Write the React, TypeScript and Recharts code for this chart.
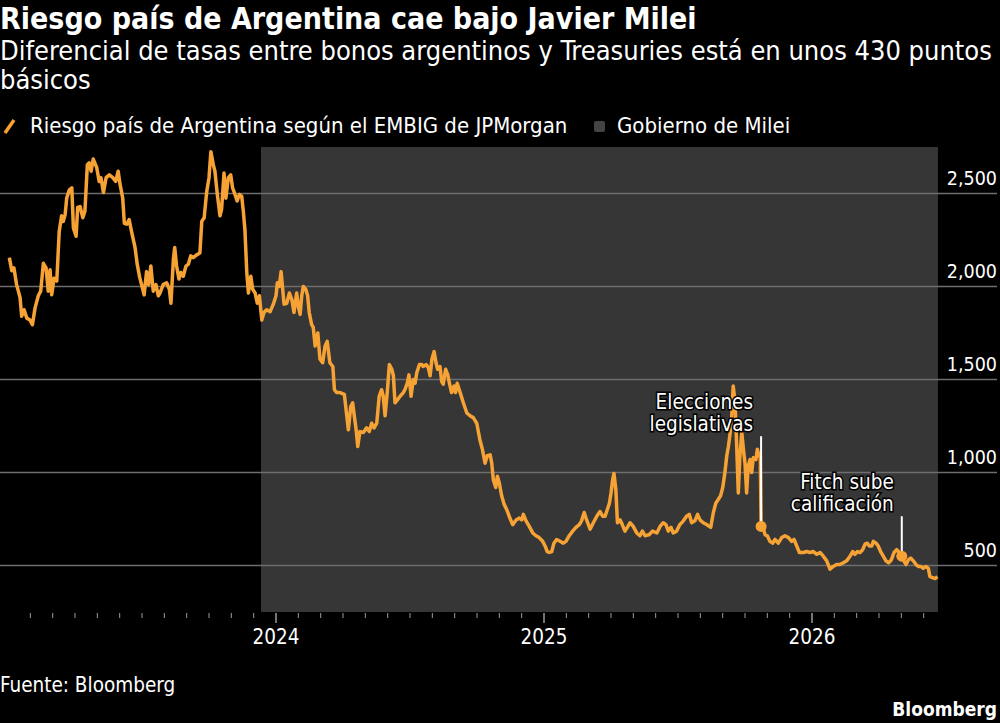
import React from "react";
import {
  LineChart,
  Line,
  XAxis,
  YAxis,
  ReferenceArea,
  ReferenceDot,
  ReferenceLine,
} from "recharts";

const FONT = "'DejaVu Sans Condensed', 'DejaVu Sans', sans-serif";
const ORANGE = "#f6a234";
const WIDTH = 1000;
const HEIGHT = 723;

// EMBIG spread (basis points), dated in decimal years
const dates = [
  2023.005, 2023.014, 2023.022, 2023.032, 2023.045, 2023.051, 2023.06, 2023.07, 2023.082, 2023.091,
  2023.101, 2023.113, 2023.122, 2023.132, 2023.142, 2023.15, 2023.157, 2023.163, 2023.172, 2023.182,
  2023.191, 2023.2, 2023.206, 2023.213, 2023.219, 2023.229, 2023.238, 2023.244, 2023.254, 2023.26,
  2023.269, 2023.279, 2023.287, 2023.296, 2023.303, 2023.31, 2023.318, 2023.331, 2023.34, 2023.347,
  2023.356, 2023.366, 2023.378, 2023.391, 2023.402, 2023.411, 2023.418, 2023.428, 2023.434, 2023.443,
  2023.452, 2023.461, 2023.474, 2023.482, 2023.492, 2023.502, 2023.508, 2023.517, 2023.525, 2023.533,
  2023.542, 2023.552, 2023.561, 2023.567, 2023.579, 2023.592, 2023.602, 2023.608, 2023.617, 2023.622,
  2023.629, 2023.638, 2023.645, 2023.654, 2023.664, 2023.673, 2023.682, 2023.691, 2023.704, 2023.716,
  2023.723, 2023.732, 2023.741, 2023.75, 2023.757, 2023.766, 2023.772, 2023.781, 2023.791, 2023.797,
  2023.806, 2023.813, 2023.822, 2023.831, 2023.838, 2023.847, 2023.855, 2023.863, 2023.872, 2023.878,
  2023.884, 2023.891, 2023.897, 2023.906, 2023.913, 2023.922, 2023.93, 2023.938, 2023.947, 2023.955,
  2023.965, 2023.978, 2023.99, 2024.0, 2024.005, 2024.012, 2024.019, 2024.025, 2024.03, 2024.04,
  2024.05, 2024.059, 2024.067, 2024.077, 2024.083, 2024.09, 2024.096, 2024.102, 2024.111, 2024.118,
  2024.124, 2024.133, 2024.139, 2024.146, 2024.156, 2024.164, 2024.174, 2024.183, 2024.191, 2024.201,
  2024.212, 2024.218, 2024.226, 2024.239, 2024.255, 2024.264, 2024.27, 2024.279, 2024.286, 2024.292,
  2024.299, 2024.305, 2024.313, 2024.326, 2024.338, 2024.348, 2024.357, 2024.366, 2024.376, 2024.385,
  2024.394, 2024.4, 2024.407, 2024.415, 2024.423, 2024.432, 2024.438, 2024.444, 2024.45, 2024.463,
  2024.475, 2024.481, 2024.49, 2024.496, 2024.504, 2024.512, 2024.519, 2024.525, 2024.535, 2024.544,
  2024.549, 2024.56, 2024.568, 2024.575, 2024.582, 2024.59, 2024.597, 2024.603, 2024.612, 2024.618,
  2024.624, 2024.633, 2024.641, 2024.647, 2024.655, 2024.664, 2024.67, 2024.676, 2024.687, 2024.699,
  2024.712, 2024.724, 2024.736, 2024.749, 2024.761, 2024.77, 2024.78, 2024.788, 2024.799, 2024.805,
  2024.811, 2024.82, 2024.826, 2024.833, 2024.842, 2024.851, 2024.861, 2024.87, 2024.883, 2024.896,
  2024.908, 2024.917, 2024.923, 2024.933, 2024.945, 2024.958, 2024.97, 2024.982, 2024.995, 2025.004,
  2025.012, 2025.02, 2025.029, 2025.037, 2025.047, 2025.06, 2025.072, 2025.082, 2025.094, 2025.107,
  2025.119, 2025.132, 2025.14, 2025.15, 2025.159, 2025.172, 2025.184, 2025.197, 2025.209, 2025.219,
  2025.228, 2025.236, 2025.244, 2025.25, 2025.256, 2025.261, 2025.268, 2025.274, 2025.284, 2025.292,
  2025.302, 2025.311, 2025.321, 2025.333, 2025.346, 2025.358, 2025.367, 2025.377, 2025.389, 2025.392,
  2025.405, 2025.421, 2025.433, 2025.445, 2025.455, 2025.464, 2025.474, 2025.482, 2025.495, 2025.507,
  2025.52, 2025.532, 2025.542, 2025.551, 2025.563, 2025.573, 2025.582, 2025.594, 2025.607, 2025.622,
  2025.632, 2025.641, 2025.65, 2025.659, 2025.667, 2025.675, 2025.682, 2025.688, 2025.694, 2025.7,
  2025.706, 2025.713, 2025.719, 2025.725, 2025.731, 2025.738, 2025.744, 2025.75, 2025.756, 2025.762,
  2025.769, 2025.775, 2025.781, 2025.791, 2025.796, 2025.802, 2025.807, 2025.81, 2025.819, 2025.825,
  2025.833, 2025.843, 2025.853, 2025.862, 2025.874, 2025.887, 2025.899, 2025.912, 2025.924, 2025.933,
  2025.943, 2025.953, 2025.968, 2025.98, 2025.993, 2026.005, 2026.018, 2026.03, 2026.042, 2026.055,
  2026.067, 2026.079, 2026.092, 2026.104, 2026.117, 2026.129, 2026.142, 2026.152, 2026.16, 2026.169,
  2026.179, 2026.189, 2026.198, 2026.206, 2026.214, 2026.223, 2026.229, 2026.239, 2026.247, 2026.256,
  2026.266, 2026.276, 2026.286, 2026.296, 2026.306, 2026.316, 2026.326, 2026.335, 2026.343, 2026.351,
  2026.359, 2026.368, 2026.378, 2026.388, 2026.397, 2026.406, 2026.415, 2026.425, 2026.434, 2026.44,
  2026.45, 2026.459, 2026.468,
];

const spread = [
  2155, 2085, 2100, 2010, 1940, 1840, 1875, 1830, 1820, 1795,
  1885, 1950, 1975, 2125, 2100, 1975, 2090, 1955, 2045, 2030,
  2295, 2380, 2350, 2385, 2475, 2520, 2530, 2315, 2270, 2425,
  2430, 2370, 2405, 2655, 2665, 2620, 2685, 2640, 2565, 2585,
  2505, 2585, 2600, 2585, 2565, 2620, 2550, 2475, 2340, 2335,
  2360, 2295, 2210, 2120, 2045, 1990, 1955, 2080, 2010, 2110,
  1975, 2010, 1950, 1965, 2010, 2020, 1985, 1910, 2145, 2210,
  2110, 2040, 2075, 2055, 2110, 2120, 2165, 2155, 2170, 2180,
  2350, 2370, 2505, 2585, 2725, 2655, 2620, 2495, 2380, 2415,
  2610, 2475, 2585, 2600, 2530, 2495, 2460, 2495, 2485, 2405,
  2305, 2075, 1965, 2055, 1985, 1965, 1910, 1950, 1820, 1860,
  1875, 1865, 1905, 1950, 2020, 2000, 2080, 1985, 1905, 1910,
  1965, 1930, 1860, 1965, 1895, 1850, 1950, 2000, 1985, 1950,
  1860, 1795, 1780, 1680, 1750, 1610, 1590, 1680, 1705, 1590,
  1570, 1445, 1430, 1430, 1420, 1305, 1230, 1355, 1375, 1305,
  1230, 1140, 1220, 1215, 1240, 1220, 1265, 1240, 1265, 1410,
  1445, 1410, 1305, 1430, 1580, 1555, 1520, 1375, 1385, 1410,
  1430, 1445, 1480, 1525, 1410, 1500, 1480, 1535, 1580, 1580,
  1570, 1580, 1565, 1520, 1610, 1650, 1590, 1555, 1570, 1490,
  1475, 1555, 1525, 1480, 1430, 1465, 1430, 1480, 1430, 1375,
  1320, 1305, 1295, 1265, 1175, 1125, 1050, 1090, 1095, 1050,
  960, 920, 980, 945, 875, 830, 800, 765, 720, 745,
  755, 745, 775, 740, 710, 675, 660, 650, 630, 605,
  575, 570, 575, 620, 640, 630, 620, 630, 660, 685,
  705, 720, 740, 785, 745, 695, 730, 765, 790, 765,
  765, 800, 835, 890, 960, 995, 910, 730, 745, 720,
  685, 705, 730, 710, 675, 660, 685, 660, 665, 665,
  685, 675, 710, 730, 720, 685, 705, 675, 685, 720,
  740, 765, 775, 730, 740, 775, 745, 730, 720, 705,
  785, 835, 855, 875, 920, 1000, 1090, 1140, 1205, 1285,
  1465, 1375, 1140, 890, 1090, 1215, 1125, 1050, 890, 1035,
  1070, 1000, 1080, 1070, 1125, 1090, 1100, 710, 695, 665,
  660, 630, 620, 640, 620, 650, 660, 650, 630, 640,
  605, 570, 570, 575, 570, 575, 560, 570, 550, 525,
  480, 495, 505, 505, 515, 525, 550, 575, 560, 575,
  570, 585, 615, 620, 605, 605, 630, 620, 605, 575,
  550, 525, 515, 530, 570, 585, 570, 550, 525, 505,
  530, 540, 525, 505, 495, 495, 485, 495, 485, 440,
  435, 430, 440,
];

const rows = dates.map((t, i) => ({ t, spread: spread[i] }));

const yTicks = [500, 1000, 1500, 2000, 2500];
const yearTicks = [2024, 2025, 2026];
// month ticks from February 2023 through June 2026
const monthTicks = Array.from({ length: 41 }, (_, i) => 2023 + (i + 1) / 12);
const xDomain: [number, number] = [2022.9701, 2026.6903];
const yDomain: [number, number] = [250, 2750];
const mileiStart = 2023.944;
const mileiEnd = 2026.47;

const events = [
  { lines: ["Elecciones", "legislativas"], t: 2025.81, value: 710, top: 1195 },
  { lines: ["Fitch sube", "calificación"], t: 2026.335, value: 550, top: 765 },
];

const XTick = (props: any) => {
  const { x, y, payload } = props;
  const v = payload.value as number;
  const isYear = yearTicks.some((yr) => Math.abs(yr - v) < 1e-6);
  return (
    <g>
      <line x1={x} x2={x} y1={y + 1} y2={y + (isYear ? 11 : 6)} stroke={isYear ? "#e6e6e6" : "#9a9a9a"} strokeWidth={1} />
      {isYear && (
        <text x={x} y={y + 32} textAnchor="middle" fill="#ffffff" fontSize={20.5} fontFamily={FONT}>
          {Math.round(v)}
        </text>
      )}
    </g>
  );
};

const gridLabel = (value: number) => (props: any) => {
  const vb = props.viewBox || {};
  return (
    <text x={(vb.x ?? 0) + (vb.width ?? 0)} y={(vb.y ?? 0) - 9} textAnchor="end" fill="#ffffff" fontSize={19.5} fontFamily={FONT}>
      {value.toLocaleString("en-US")}
    </text>
  );
};

const EventLabel = (lines: string[]) => (props: any) => {
  const { cx, cy } = props;
  return (
    <text
      x={cx - 8}
      y={cy - 27}
      textAnchor="end"
      fill="#ffffff"
      stroke="#000000"
      strokeWidth={3}
      paintOrder="stroke"
      fontSize={20.5}
      fontFamily={FONT}
    >
      <tspan x={cx - 8} dy={0}>{lines[0]}</tspan>
      <tspan x={cx - 8} dy={22}>{lines[1]}</tspan>
    </text>
  );
};

export default function App() {
  return (
    <div style={{ position: "absolute", left: 0, top: 0, width: WIDTH, height: HEIGHT, background: "#000000", overflow: "hidden" }}>
      <LineChart width={WIDTH} height={HEIGHT} data={rows} margin={{ top: 147, right: 3, bottom: 81, left: 0 }}>
        <ReferenceArea x1={mileiStart} x2={mileiEnd} y1={yDomain[0]} y2={yDomain[1]} fill="#363636" fillOpacity={1} stroke="none" />
        {yTicks.map((v) => (
          <ReferenceLine key={"grid-" + v} y={v} stroke="#6e6e6e" strokeWidth={1.5} label={gridLabel(v)} />
        ))}
        <XAxis
          dataKey="t"
          type="number"
          domain={xDomain}
          ticks={monthTicks}
          interval={0}
          axisLine={false}
          tickLine={false}
          tickSize={0}
          tickMargin={0}
          height={30}
          tick={<XTick />}
        />
        <YAxis orientation="right" type="number" domain={yDomain} hide />
        <Line
          dataKey="spread"
          type="linear"
          stroke={ORANGE}
          strokeWidth={3.5}
          strokeLinejoin="round"
          dot={false}
          isAnimationActive={false}
        />
        {events.map((e) => (
          <ReferenceLine
            key={e.lines[0] + "-line"}
            segment={[{ x: e.t, y: e.top }, { x: e.t, y: e.value }]}
            stroke="#ffffff"
            strokeWidth={2}
          />
        ))}
        {events.map((e) => (
          <ReferenceDot key={e.lines[0] + "-dot"} x={e.t} y={e.value} r={5.5} fill={ORANGE} stroke="none" />
        ))}
        {events.map((e) => (
          <ReferenceDot key={e.lines[0] + "-label"} x={e.t} y={e.top} r={0} shape={EventLabel(e.lines)} />
        ))}
      </LineChart>
      <svg width={WIDTH} height={HEIGHT} style={{ position: "absolute", left: 0, top: 0, pointerEvents: "none" }}>
        <text x={0} y={29} fill="#ffffff" fontSize={30} fontWeight="bold" fontFamily={FONT}>
          Riesgo país de Argentina cae bajo Javier Milei
        </text>
        <text x={0} y={60} fill="#ffffff" fontSize={27} fontFamily={FONT}>
          Diferencial de tasas entre bonos argentinos y Treasuries está en unos 430 puntos
        </text>
        <text x={0} y={89} fill="#ffffff" fontSize={27} fontFamily={FONT}>
          básicos
        </text>
        <line x1={5} y1={133} x2={14} y2={120} stroke={ORANGE} strokeWidth={3.5} />
        <text x={30} y={133} fill="#ffffff" fontSize={22} fontFamily={FONT}>
          Riesgo país de Argentina según el EMBIG de JPMorgan
        </text>
        <rect x={594} y={121} width={11} height={11} rx={2} fill="#444444" />
        <text x={617} y={133} fill="#ffffff" fontSize={22} fontFamily={FONT}>
          Gobierno de Milei
        </text>
        <text x={0} y={692} fill="#ffffff" fontSize={20.5} fontFamily={FONT}>
          Fuente: Bloomberg
        </text>
        <text x={997} y={716} textAnchor="end" fill="#ffffff" fontSize={19} fontWeight="bold" fontFamily={FONT}>
          Bloomberg
        </text>
      </svg>
    </div>
  );
}
